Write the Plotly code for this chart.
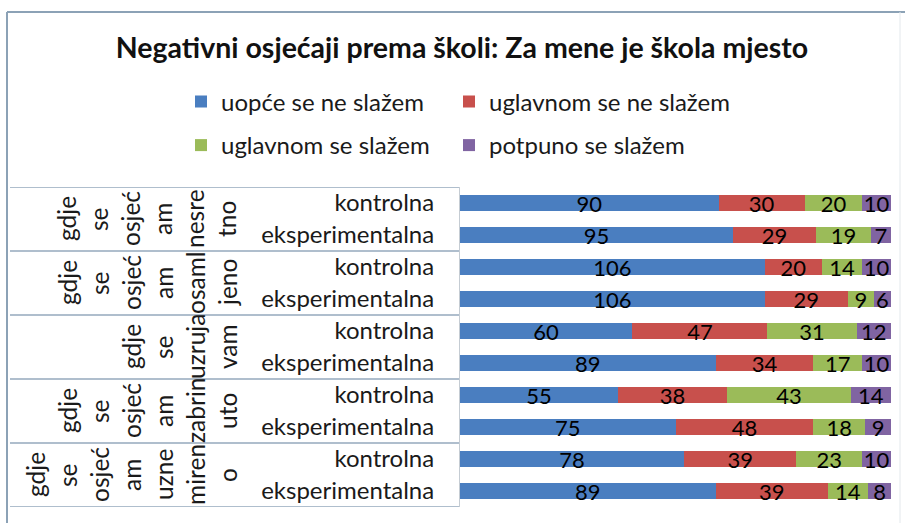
import plotly.graph_objects as go

W, H = 905, 523
FONT = "Lato"

title_text = "Negativni osjećaji prema školi: Za mene je škola mjesto"
row_labels = ["kontrolna", "eksperimentalna"] * 5
group_lines = [
    ["gdje", "se", "osjeć", "am", "nesre", "tno"],
    ["gdje", "se", "osjeć", "am", "osaml", "jeno"],
    ["gdje", "se", "uzruja", "vam"],
    ["gdje", "se", "osjeć", "am", "zabrin", "uto"],
    ["gdje", "se", "osjeć", "am", "uzne", "miren", "o"],
]
series_names = ["uopće se ne slažem", "uglavnom se ne slažem",
                "uglavnom se slažem", "potpuno se slažem"]
uopce_ne = [90, 95, 106, 106, 60, 89, 55, 75, 78, 89]
uglavnom_ne = [30, 29, 20, 29, 47, 34, 38, 48, 39, 39]
uglavnom_da = [20, 19, 14, 9, 31, 17, 43, 18, 23, 14]
potpuno_da = [10, 7, 10, 6, 12, 10, 14, 9, 10, 8]
colors = ["#4A7EC0", "#C8504C", "#9BBB59", "#8064A2"]

series = [uopce_ne, uglavnom_ne, uglavnom_da, potpuno_da]
ys = list(range(len(row_labels)))


def fx(p):
    return p / W


def fy(p):
    return 1 - p / H


fig = go.Figure()
for i, (name, vals, col) in enumerate(zip(series_names, series, colors)):
    fig.add_trace(go.Bar(
        y=ys, x=vals, orientation="h", name=name,
        marker=dict(color=col, line=dict(width=0)), width=0.52,
        text=vals, textposition="inside", insidetextanchor="middle",
        constraintext="none", textangle=0,
        insidetextfont=dict(family=FONT, size=22, color="black"),
        legend="legend" if i < 2 else "legend2",
        legendwidth=223 if i % 2 == 0 else 300,
        hoverinfo="skip",
    ))

leg_common = dict(orientation="h", xanchor="left", yanchor="middle",
                  entrywidthmode="pixels",
                  font=dict(family=FONT, size=24, color="#1a1a1a"),
                  bgcolor="rgba(0,0,0,0)", traceorder="normal")

fig.update_layout(
    barmode="stack", width=W, height=H,
    margin=dict(l=0, r=0, t=0, b=0),
    paper_bgcolor="white", plot_bgcolor="white",
    title=dict(text="<b>" + title_text + "</b>", x=fx(462), xanchor="center",
               y=fy(48), yanchor="middle",
               font=dict(family=FONT, size=28.5, color="#111111")),
    legend=dict(x=fx(181), y=fy(102), **leg_common),
    legend2=dict(x=fx(181), y=fy(145.5), **leg_common),
)
fig.update_xaxes(domain=[fx(460), fx(891)], range=[0, 150], visible=False)
fig.update_yaxes(domain=[fy(507), fy(187)], range=[9.5, -0.5],
                 tickvals=ys, ticktext=row_labels, showgrid=False,
                 zeroline=False, showline=True, linecolor="#c5ccd3",
                 linewidth=1, ticks="", ticklabelstandoff=20,
                 tickfont=dict(family=FONT, size=24, color="#1a1a1a"),
                 automargin=False)

# table lines of the category area
for g in range(len(group_lines) + 1):
    yb = 2 * g - 0.5
    fig.add_shape(type="line", xref="paper", yref="y", x0=fx(10), x1=fx(459),
                  y0=yb, y1=yb, line=dict(color="#94a8bc", width=1.3))

# rotated, wrapped group labels
col_step = 32
last_col = 227
for g, words in enumerate(group_lines):
    n = len(words)
    for k, w in enumerate(words):
        xc = last_col - (n - 1 - k) * col_step
        fig.add_annotation(text=w, xref="paper", yref="y", x=fx(xc), y=2 * g + 0.5,
                           textangle=-90, showarrow=False, xanchor="center",
                           yanchor="middle",
                           font=dict(family=FONT, size=24.5, color="#1a1a1a"))

# outer chart frame
fig.add_shape(type="line", xref="paper", yref="paper", x0=fx(7), x1=1,
              y0=fy(12), y1=fy(12), line=dict(color="#8ca2b6", width=2))
fig.add_shape(type="line", xref="paper", yref="paper", x0=fx(7), x1=fx(7),
              y0=fy(12), y1=0, line=dict(color="#8ca2b6", width=2))
fig.add_shape(type="line", xref="paper", yref="paper", x0=fx(900), x1=fx(900),
              y0=fy(12), y1=0, line=dict(color="#e3e8ec", width=1))

fig.write_html("out.html", config={"displayModeBar": False},
               post_script="document.body.style.margin='0px';")
